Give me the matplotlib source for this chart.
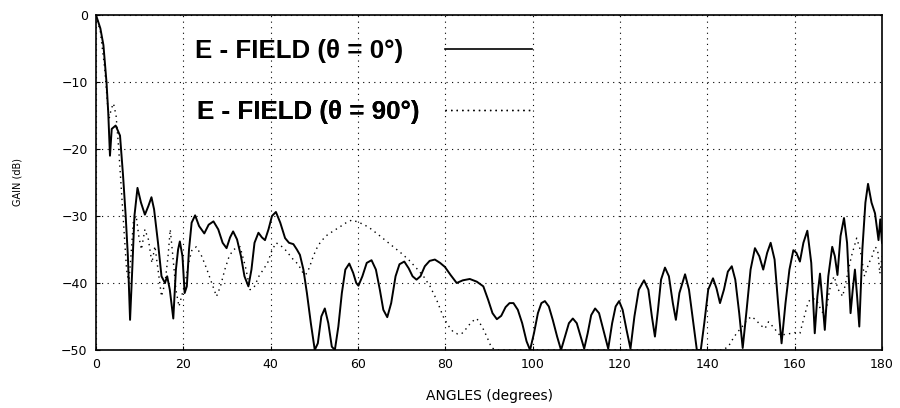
import matplotlib
matplotlib.use("Agg")
import matplotlib.pyplot as plt
from matplotlib.lines import Line2D

# ---------------- data ----------------
angles_0 = [0.0, 1.0, 1.7, 2.4, 2.8, 3.2, 3.6, 4.5, 5.5, 6.2, 6.8, 7.3, 7.8, 8.3, 8.8, 9.5,
            10.3, 11.2, 12.0, 12.7, 13.3, 14.2, 15.0, 15.8, 16.3, 16.9, 17.7, 18.3, 18.8, 19.2,
            19.8, 20.3, 20.8, 21.3, 21.9, 22.7, 23.6, 24.8, 25.8, 26.9, 28.0, 29.0, 29.9, 30.7,
            31.4, 32.3, 33.2, 34.0, 34.9, 35.6, 36.3, 37.2, 38.0, 38.7, 39.5, 40.3, 41.2, 42.2,
            43.3, 44.2, 45.2, 46.0, 46.7, 47.5, 48.3, 49.2, 50.1, 50.8, 51.6, 52.4, 53.2, 54.0,
            54.7, 55.5, 56.3, 57.1, 58.0, 58.9, 59.6, 60.1, 61.0, 62.0, 63.1, 64.1, 65.0, 65.8,
            66.7, 67.6, 68.6, 69.5, 70.6, 71.6, 72.5, 73.4, 74.3, 75.3, 76.4, 77.6, 78.8, 79.9,
            81.2, 82.6, 84.0, 85.6, 87.2, 88.7, 89.8, 90.8, 91.8, 92.8, 93.8, 94.7, 95.6, 96.6,
            97.6, 98.6, 99.4, 100.3, 101.2, 102.0, 102.8, 103.7, 104.6, 105.6, 106.5, 107.4,
            108.3, 109.2, 110.1, 111.0, 111.8, 112.6, 113.4, 114.3, 115.2, 116.2, 117.3, 118.2,
            119.0, 119.8, 120.6, 121.5, 122.4, 123.3, 124.3, 125.5, 126.5, 127.3, 128.0, 128.7,
            129.4, 130.3, 131.2, 132.1, 132.8, 133.6, 134.9, 135.8, 136.7, 137.6, 138.5, 139.3,
            140.2, 141.3, 142.1, 142.9, 143.8, 144.7, 145.6, 146.4, 147.3, 148.1, 149.0, 149.9,
            150.9, 151.9, 152.8, 153.7, 154.5, 155.4, 156.2, 157.0, 157.9, 158.8, 159.7, 160.4,
            161.2, 162.0, 162.9, 163.8, 164.6, 165.2, 165.8, 166.4, 166.9, 167.7, 168.6, 169.2,
            169.8, 170.5, 171.3, 172.0, 172.8, 173.3, 173.8, 174.3, 174.8, 175.5, 176.2, 176.8,
            177.6, 178.4, 179.2, 179.6, 180.0]
gain_0 = [0.0, -2.0, -4.5, -10.0, -14.5, -21.0, -17.0, -16.5, -18.0, -24.0, -30.0, -36.0, -45.5,
          -38.0, -30.0, -25.8, -28.0, -29.8, -28.5, -27.2, -29.0, -34.0, -39.0, -40.0, -39.0,
          -41.0, -45.3, -38.0, -35.0, -33.8, -36.0, -41.5, -40.5, -35.0, -31.0, -29.9, -31.5,
          -32.6, -31.3, -30.8, -32.0, -34.0, -34.8, -33.2, -32.3, -33.5, -36.0, -39.0, -40.5,
          -38.0, -34.0, -32.5, -33.2, -33.6, -32.0, -30.0, -29.4, -31.0, -33.3, -34.0, -34.2,
          -35.0, -35.8, -38.0, -41.5, -46.0, -50.0, -49.0, -45.0, -43.8, -46.0, -49.5, -50.0,
          -46.5, -41.5, -38.0, -37.1, -38.5, -40.0, -40.4, -39.0, -37.0, -36.6, -38.0, -41.0,
          -44.0, -45.1, -43.0, -39.0, -37.2, -36.8, -37.8, -39.0, -39.5, -39.0, -37.5, -36.7,
          -36.5, -37.0, -37.6, -38.8, -40.0, -39.6, -39.4, -39.8, -40.5, -42.5, -44.5, -45.4,
          -44.9, -43.6, -43.0, -43.0, -44.0, -46.0, -48.7, -50.0, -47.5, -44.5, -43.0, -42.7,
          -43.5, -45.5, -48.0, -50.0, -48.0, -46.0, -45.3, -46.0, -48.0, -49.8, -47.5, -44.8,
          -43.8, -44.5, -47.0, -49.8, -46.0, -43.5, -42.7, -44.0, -47.0, -49.8, -45.0, -41.0,
          -39.6, -41.0, -45.0, -48.0, -44.0, -39.5, -37.7, -39.0, -43.0, -45.5, -41.5, -38.7,
          -41.0, -45.5, -50.0, -50.0, -46.0, -41.0, -39.3, -40.8, -43.0, -41.0, -38.3, -37.5,
          -39.5, -44.5, -49.7, -44.0, -38.0, -34.8, -36.0, -38.0, -35.5, -34.0, -36.5, -43.0,
          -49.0, -43.0, -38.0, -35.1, -35.5, -36.8, -34.0, -32.2, -37.0, -47.5, -42.0, -38.6,
          -43.0, -47.0, -39.0, -34.6, -36.0, -38.8, -33.0, -30.3, -34.0, -44.5, -41.0, -38.0,
          -42.0, -46.5, -35.0, -28.0, -25.2, -28.0, -29.6, -33.6, -30.5, -34.0]

angles_90 = [0.0, 1.0, 2.0, 2.6, 3.0, 3.5, 4.0, 4.6, 5.2, 5.8, 6.4, 7.0, 7.5, 8.0, 8.6, 9.2,
             9.8, 10.4, 11.2, 12.0, 12.8, 13.5, 14.2, 15.0, 15.8, 16.5, 17.0, 17.6, 18.3, 19.0,
             19.6, 20.4, 21.2, 22.0, 23.0, 24.2, 25.3, 26.5, 27.6, 28.5, 29.5, 30.5, 31.5, 33.0,
             34.2, 35.3, 36.3, 37.3, 38.3, 39.3, 40.2, 41.2, 42.1, 43.3, 44.3, 45.3, 46.3, 47.2,
             48.0, 48.8, 49.6, 50.4, 51.3, 52.6, 54.2, 55.9, 57.3, 58.6, 60.0, 61.4, 62.7, 64.5,
             66.2, 68.1, 70.0, 71.7, 73.4, 75.0, 76.5, 78.0, 79.5, 80.6, 81.8, 82.8, 83.7, 84.8,
             86.0, 87.2, 88.4, 89.5, 90.6, 92.0, 143.5, 144.8, 145.7, 146.7, 148.0, 149.0, 150.1,
             151.1, 152.2, 153.2, 154.0, 155.0, 156.6, 158.5, 160.0, 161.2, 162.2, 163.1, 164.0,
             165.0, 166.0, 167.0, 168.0, 169.0, 170.0, 171.0, 172.0, 173.0, 174.2, 175.0, 176.0,
             177.0, 177.6, 178.4, 179.0, 179.5, 180.0]
gain_90 = [0.0, -2.5, -8.0, -13.0, -15.5, -14.0, -13.2, -15.0, -20.0, -26.0, -32.0, -38.0,
           -40.0, -36.0, -30.5, -30.0, -33.0, -35.0, -32.0, -33.5, -37.0, -34.5, -38.0, -42.0,
           -40.0, -36.0, -32.0, -36.0, -41.0, -43.5, -42.0, -40.0, -37.0, -35.0, -34.6, -36.0,
           -37.8, -40.0, -42.0, -40.5, -38.0, -36.0, -35.0, -34.6, -37.5, -41.0, -40.5, -39.0,
           -38.0, -37.0, -35.3, -34.0, -34.3, -35.0, -35.8, -36.6, -37.2, -38.3, -38.8, -37.8,
           -36.3, -35.0, -34.0, -33.0, -32.3, -31.6, -31.0, -30.6, -30.9, -31.3, -31.8, -32.7,
           -33.6, -34.6, -35.6, -36.6, -37.8, -39.0, -40.5, -42.5, -45.0, -46.3, -47.3, -47.6,
           -47.6, -46.8, -45.8, -45.3, -46.5, -48.0, -49.7, -50.0, -50.0, -49.5, -48.5, -47.5,
           -46.5, -45.6, -45.0, -45.5, -46.3, -46.8, -45.8, -46.5, -47.8, -47.6, -47.4, -47.5,
           -45.0, -42.8, -42.3, -42.5, -44.0, -45.0, -41.0, -39.0, -41.0, -42.0, -39.0, -36.0,
           -33.3, -35.0, -39.0, -37.0, -36.3, -34.6, -35.0, -38.6, -36.0]

x_ticks = [0, 20, 40, 60, 80, 100, 120, 140, 160, 180]
y_ticks = [-50, -40, -30, -20, -10, 0]
y_tick_labels = ["\u221250", "\u221240", "\u221230", "\u221220", "\u221210", "0"]
label_0 = "E - FIELD (\u03b8 = 0\u00b0)"
label_90 = "E - FIELD (\u03b8 = 90\u00b0)"

# ---------------- figure ----------------
W, H, DPI = 900, 408, 100
fig = plt.figure(figsize=(W / DPI, H / DPI), dpi=DPI)
ax = fig.add_axes([96 / W, 1 - 350 / H, (882 - 96) / W, (350 - 15) / H])

line0, = ax.plot(angles_0, gain_0, color="black", lw=1.4, solid_joinstyle="round")
line90, = ax.plot(angles_90, gain_90, color="black", lw=1.0, linestyle=(0, (1, 3)))

ax.set_xlim(0, 180)
ax.set_ylim(-50, 0)
ax.set_xticks(x_ticks)
ax.set_xticklabels([str(v) for v in x_ticks], fontsize=9)
ax.set_yticks(y_ticks)
ax.set_yticklabels(y_tick_labels, fontsize=9)
ax.tick_params(direction="in", length=3, width=0.8, pad=6)
ax.grid(True, color="black", linestyle=(0, (1, 4)), linewidth=0.8)
for s in ax.spines.values():
    s.set_linewidth(1.2)

ax.set_xlabel("ANGLES (degrees)", fontsize=10, labelpad=13)
ax.set_ylabel("GAIN (dB)", fontsize=7, labelpad=28)

# ---------------- legend (two single-entry legends) ----------------
LEG_FAMILY = ["Liberation Sans", "DejaVu Sans"]
renderer = fig.canvas.get_renderer()


def text_width(s, size):
    t = fig.text(0, 0, s, fontfamily=LEG_FAMILY, fontweight="bold", fontsize=size)
    w = t.get_window_extent(renderer).width
    t.remove()
    return w


# pick the font size whose first label spans about 208 px, as in the picture
base = 20.0
leg_size = base * 208.0 / text_width(label_0, base)
fs_px = leg_size * DPI / 72.0
leg_prop = dict(family=LEG_FAMILY, weight="bold", size=leg_size)


def add_entry(handle, label, x_left, y_center, line_start, line_end):
    w = text_width(label, leg_size)
    pad = max(line_start - x_left - w, 2) / fs_px
    leg = ax.legend([handle], [label], loc="center left",
                    bbox_to_anchor=(x_left / W, 1 - y_center / H),
                    bbox_transform=fig.transFigure, frameon=False,
                    markerfirst=False, borderpad=0, borderaxespad=0,
                    handletextpad=pad, handlelength=(line_end - line_start) / fs_px,
                    prop=leg_prop)
    ax.add_artist(leg)
    return leg


h0 = Line2D([], [], color="black", lw=1.2)
h90 = Line2D([], [], color="black", lw=1.0, linestyle=(0, (1, 3)))
add_entry(h0, label_0, 195, 51, 445, 532)
add_entry(h90, label_90, 197, 112, 445, 532)

fig.savefig("out.png", dpi=DPI)
